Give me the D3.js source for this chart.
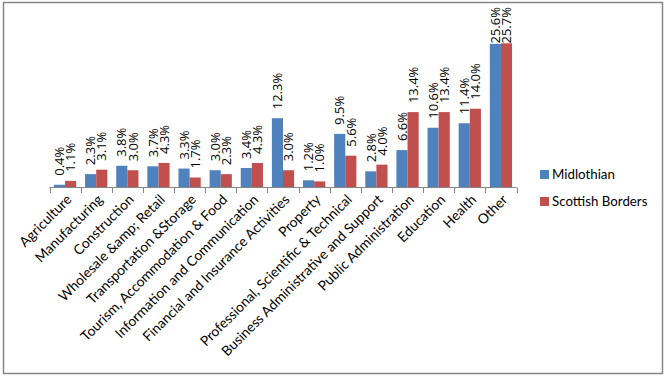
<!DOCTYPE html>
<html><head><meta charset="utf-8">
<script src="https://cdn.jsdelivr.net/npm/d3@7"></script>
<style>html,body{margin:0;padding:0;background:#fff;}</style>
</head><body>
<svg id="chart" width="667" height="377"></svg>
<script>
const categories = ["Agriculture","Manufacturing","Construction","Wholesale &amp; Retail","Transportation &Storage","Tourism, Accommodation & Food","Information and Communication","Financial and Insurance Activities","Property","Professional, Scientific & Technical","Business Administrative and Support","Public Administration","Education","Health","Other"];
const seriesNames = ["Midlothian","Scottish Borders"];
const midlothian = [0.4,2.3,3.8,3.7,3.3,3.0,3.4,12.3,1.2,9.5,2.8,6.6,10.6,11.4,25.6];
const scottishBorders = [1.1,3.1,3.0,4.3,1.7,2.3,4.3,3.0,1.0,5.6,4.0,13.4,13.4,14.0,25.7];
const colors = ["#4F81BD","#C0504D"];

const svg = d3.select("#chart");
svg.append("rect").attr("x",3.5).attr("y",2.5).attr("width",659).attr("height",371)
  .attr("fill","#fff").attr("stroke","#868686").attr("stroke-width",1.5);

const x0 = d3.scaleBand().domain(categories).range([49.5,516.5]).paddingInner(0).paddingOuter(0);
const x1 = d3.scaleBand().domain(seriesNames).range([0,x0.bandwidth()]).paddingInner(0).paddingOuter(0.4);
const y = d3.scaleLinear().domain([0,30]).range([187,19.3]);

const data = categories.map((c,i)=>({cat:c, vals:[midlothian[i], scottishBorders[i]]}));

const g = svg.selectAll("g.cat").data(data).enter().append("g")
  .attr("transform",d=>`translate(${x0(d.cat)},0)`);

g.selectAll("rect").data(d=>d.vals.map((v,j)=>({v,s:seriesNames[j],j}))).enter().append("rect")
  .attr("x",d=>x1(d.s)).attr("width",x1.bandwidth())
  .attr("y",d=>y(d.v)).attr("height",d=>y(0)-y(d.v))
  .attr("fill",d=>colors[d.j]);

g.selectAll("text").data(d=>d.vals.map((v,j)=>({v,s:seriesNames[j],j}))).enter().append("text")
  .attr("transform",d=>`translate(${x1(d.s)+x1.bandwidth()/2},${Math.max(y(d.v)-9,43.5)}) rotate(-90)`)
  .attr("dy","0.36em")
  .attr("font-family","Open Sans, sans-serif").attr("font-size","13px").attr("fill","#000")
  .text(d=>d.v.toFixed(1)+"%");

// axis line and tick marks
svg.append("line").attr("x1",49.5).attr("x2",516.5).attr("y1",187.5).attr("y2",187.5).attr("stroke","#868686");
const tickPos = categories.map(c=>x0(c)).concat([x0.range()[1]]);
svg.selectAll("line.tk").data(tickPos).enter().append("line")
  .attr("x1",d=>Math.round(d)+0.5).attr("x2",d=>Math.round(d)+0.5)
  .attr("y1",187.5).attr("y2",193).attr("stroke","#868686");

svg.selectAll("text.cat").data(categories).enter().append("text")
  .attr("transform",d=>`translate(${x0(d)+x0.bandwidth()/2+4},${197}) rotate(-45)`)
  .attr("text-anchor","end").attr("dy","0.35em")
  .attr("font-family","Lato, sans-serif").attr("font-size","13.8px").attr("fill","#000")
  .text(d=>d);

// legend
const leg = svg.selectAll("g.leg").data(seriesNames).enter().append("g")
  .attr("transform",(d,i)=>`translate(540,${170+i*27})`);
leg.append("rect").attr("width",9).attr("height",9).attr("fill",(d,i)=>colors[i]);
leg.append("text").attr("x",12).attr("y",9).attr("font-family","Lato, sans-serif").attr("font-size","13.3px").text(d=>d);
</script>
</body></html>
